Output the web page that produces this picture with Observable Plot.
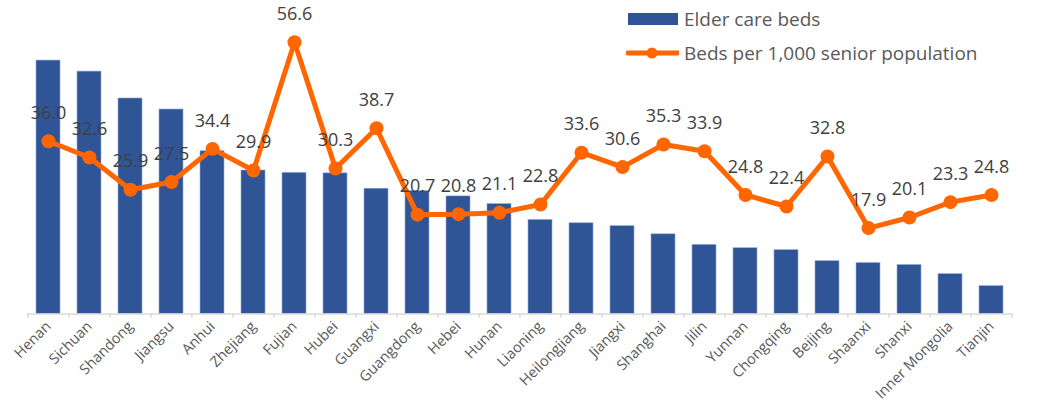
<!DOCTYPE html>
<html>
<head>
<meta charset="utf-8">
<script src="https://cdn.jsdelivr.net/npm/d3@7"></script>
<script src="https://cdn.jsdelivr.net/npm/@observablehq/plot@0.6"></script>
<style>
  body { margin: 0; background: #fff; font-family: "Open Sans", sans-serif; }
  #wrap { position: relative; width: 1038px; height: 403px; }
  #legend { position: absolute; left: 626px; top: 2px; color: #595959; font-size: 19px; }
  #legend .row { display: flex; align-items: center; height: 34px; }
  #legend svg { margin-right: 5px; }
</style>
</head>
<body>
<div id="wrap">
  <div id="chart"></div>
  <div id="legend">
    <div class="row"><svg width="53" height="12"><rect x="2" y="0" width="50" height="12" fill="#2F5597"></rect></svg><span>Elder care beds</span></div>
    <div class="row"><svg width="53" height="16"><line x1="2" y1="8" x2="52" y2="8" stroke="#FF6600" stroke-width="5" stroke-linecap="round"></line><circle cx="26" cy="8" r="5.5" fill="#FF6600"></circle></svg><span>Beds per 1,000 senior population</span></div>
  </div>
</div>
<script>
const provinces = ["Henan","Sichuan","Shandong","Jiangsu","Anhui","Zhejiang","Fujian","Hubei","Guangxi","Guangdong","Hebei","Hunan","Liaoning","Heilongjiang","Jiangxi","Shanghai","Jilin","Yunnan","Chongqing","Beijing","Shaanxi","Shanxi","Inner Mongolia","Tianjin"];
// Elder care beds (thousands)
const elderCareBeds = [528,505,449,426,339,299,294,293,261,256,245,229,196,189,183,166,144,137,133,110,106,102,83,58];
// Beds per 1,000 senior population
const bedsPer1000 = [36.0,32.6,25.9,27.5,34.4,29.9,56.6,30.3,38.7,20.7,20.8,21.1,22.8,33.6,30.6,35.3,33.9,24.8,22.4,32.8,17.9,20.1,23.3,24.8];

const data = provinces.map((p, i) => ({province: p, beds: elderCareBeds[i], ratio: bedsPer1000[i]}));
const bedScale = 0.1; // beds (thousands) drawn on the shared axis

const step = 985 / provinces.length;

const chart = Plot.plot({
  width: 1038,
  height: 403,
  marginLeft: 27,
  marginRight: 26,
  marginTop: 25.5,
  marginBottom: 89.5,
  style: {fontFamily: "Open Sans, sans-serif", background: "white"},
  x: {domain: provinces, paddingInner: 0.415, paddingOuter: 0.2075, label: null},
  y: {domain: [0, 60], axis: null},
  marks: [
    Plot.barY(data, {x: "province", y: d => d.beds * bedScale, fill: "#2F5597", stroke: "#8EA9DB", strokeWidth: 0.6}),
    Plot.ruleY([0], {stroke: "#D9D9D9", strokeWidth: 1.5}),
    Plot.ruleX(data, {x: "province", dx: -step / 2, y1: 0, y2: -0.9, stroke: "#D9D9D9", strokeWidth: 1.5}),
    Plot.ruleX(data.slice(-1), {x: "province", dx: step / 2, y1: 0, y2: -0.9, stroke: "#D9D9D9", strokeWidth: 1.5}),
    Plot.axisX({tickRotate: -45, tickSize: 0, tickPadding: 10, fontSize: 14.5, fill: "#595959", label: null}),
    Plot.line(data, {x: "province", y: "ratio", stroke: "#FF6600", strokeWidth: 5, strokeLinejoin: "round"}),
    Plot.dot(data, {x: "province", y: "ratio", r: 7, fill: "#FF6600"}),
    Plot.text(data, {x: "province", y: "ratio", text: d => d.ratio.toFixed(1), dy: -28, fontSize: 18, fill: "#404040"})
  ]
});
document.getElementById("chart").appendChild(chart);
</script>
</body>
</html>
